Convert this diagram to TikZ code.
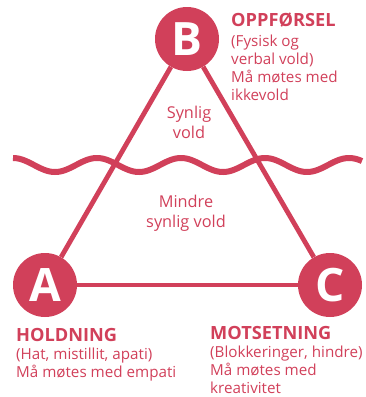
\documentclass[tikz,border=0pt]{standalone}
\usepackage{fontspec}
\setmainfont{Open Sans}
\usetikzlibrary{positioning}
\definecolor{rosa}{RGB}{209,64,90}
\tikzset{
  hjorne/.style={circle, fill=rosa, minimum size=64pt, inner sep=0pt,
    text=white, font=\fontsize{46}{46}\selectfont\bfseries},
  kant/.style={draw=rosa, line width=4.8pt},
  midttekst/.style={text=rosa, align=center, anchor=base,
    font=\fontsize{16.3}{19.5}\selectfont, inner sep=0pt},
  forklaring/.style={text=rosa, align=left, anchor=base west,
    font=\fontsize{15.2}{17.8}\selectfont, inner sep=0pt},
}
\newcommand{\overskrift}[1]{{\fontsize{18.2}{17.8}\selectfont\bfseries #1}}
\begin{document}
\begin{tikzpicture}[x=1pt,y=-1pt]
        \useasboundingbox (0,0) rectangle (366,397);

        % hjornene
        \node[hjorne] (B) at (187,39) {B};
        \node[hjorne] (A) at (45,285) {A};
        \node[hjorne] (C) at (330,285) {C};

        \draw[kant] (A) -- (B);
        \draw[kant] (B) -- (C);
        \draw[kant] (C) -- (A);

        % vannlinjen
        \draw[rosa, line width=6pt] plot[domain=13:362, samples=200]
              (\x, {165 - 7*cos((\x-13)/84*360)});

        % grunnlinjen til siste linje
        \node[midttekst] (synlig) at (189,138) {Synlig\\vold};
        \node[midttekst] (mindre) at (186,227) {Mindre\\synlig vold};

        \node[forklaring] (oppf) at (231,100)
             {\overskrift{OPPFØRSEL}\\[2pt](Fysisk og\\verbal vold)\\Må møtes med\\ikkevold};
        \node[forklaring] (hold) at (16,377)
             {\overskrift{HOLDNING}\\[0pt](Hat, mistillit, apati)\\Må møtes med empati};
        \node[forklaring] (mots) at (210,393)
             {\overskrift{MOTSETNING}\\[0pt](Blokkeringer, hindre)\\Må møtes med\\kreativitet};
\end{tikzpicture}
\end{document}
